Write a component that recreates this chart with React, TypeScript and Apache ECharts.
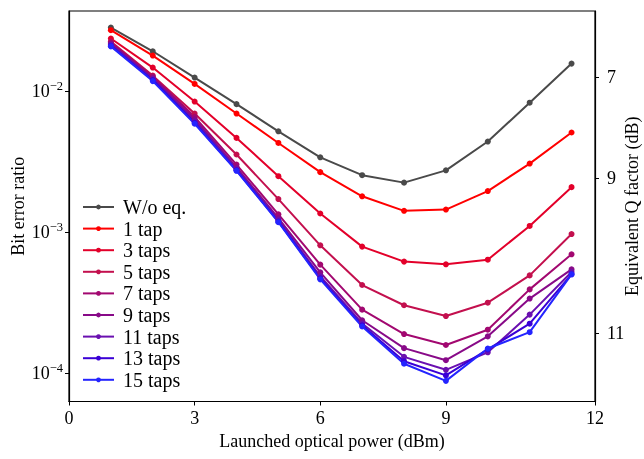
import React, { useEffect, useRef } from "react";
import * as echarts from "echarts";

const powers = [1, 2, 3, 4, 5, 6, 7, 8, 9, 10, 11, 12];
const seriesNames = ["W/o eq.", "1 tap", "3 taps", "5 taps", "7 taps", "9 taps", "11 taps", "13 taps", "15 taps"];
const seriesColors = ["#4a4a4a", "#ff0000", "#e3002a", "#c3104e", "#a20870", "#880a88", "#6a10b0", "#3a00d6", "#2424ff"];

const berWoEq = [0.0283, 0.0192, 0.0125, 0.0081, 0.0052, 0.0034, 0.00254, 0.00225, 0.00275, 0.0044, 0.0083, 0.0157];
const ber1 = [0.0271, 0.0179, 0.01127, 0.00695, 0.0043, 0.00267, 0.0018, 0.00142, 0.00145, 0.00196, 0.00307, 0.0051];
const ber3 = [0.02365, 0.01472, 0.00845, 0.00467, 0.0025, 0.00136, 0.000792, 0.00062, 0.000593, 0.00064, 0.00111, 0.00209];
const ber5 = [0.0225, 0.0129, 0.00695, 0.00356, 0.00172, 0.000809, 0.000423, 0.000304, 0.000255, 0.000317, 0.000495, 0.000972];
const ber7 = [0.0221, 0.0127, 0.00659, 0.00302, 0.00134, 0.00059, 0.000283, 0.00019, 0.000159, 0.000204, 0.000394, 0.000698];
const ber9 = [0.0217, 0.0124, 0.00633, 0.00289, 0.00126, 0.00052, 0.000238, 0.000151, 0.000124, 0.000183, 0.000339, 0.000546];
const ber11 = [0.0214, 0.0122, 0.00613, 0.0028, 0.00122, 0.000488, 0.000226, 0.000131, 0.000106, 0.000141, 0.000261, 0.000523];
const ber13 = [0.021, 0.012, 0.00598, 0.00275, 0.00119, 0.000472, 0.000219, 0.000122, 0.0000968, 0.000148, 0.000225, 0.000504];
const ber15 = [0.0208, 0.0118, 0.00588, 0.00273, 0.00118, 0.000464, 0.000215, 0.000117, 0.0000885, 0.00015, 0.000196, 0.000504];
const allBer = [berWoEq, ber1, ber3, ber5, ber7, ber9, ber11, ber13, ber15];

const xTickValues = [0, 3, 6, 9, 12.56];
const xTickLabels = ["0", "3", "6", "9", "12"];
const berTickValues = [1e-4, 1e-3, 1e-2];
const qTickLabels = [7, 9, 11];

function erfc(x: number): number {
  const t = 1 / (1 + 0.3275911 * x);
  return t * (0.254829592 + t * (-0.284496736 + t * (1.421413741 + t * (-1.453152027 + t * 1.061405429)))) * Math.exp(-x * x);
}
const qToBer = (qdB: number) => 0.5 * erfc(Math.pow(10, qdB / 20) / Math.SQRT2);
const qTickValues = qTickLabels.map(qToBer);

const FONT = "Liberation Serif";

export default function App() {
  const ref = useRef<HTMLDivElement>(null);
  useEffect(() => {
    if (!ref.current) return;
    const chart = echarts.init(ref.current, undefined, { renderer: "svg" });
    const yMin = 6.32e-5;
    const yMax = 0.03705;
    chart.setOption({
      animation: false,
      textStyle: { fontFamily: FONT },
      grid: {
        left: 69, top: 11, right: 49, bottom: 57.5,
        outerBoundsMode: "none",
        containLabel: false,
        show: true, borderColor: "#000", borderWidth: 1.2, backgroundColor: "transparent",
      },
      legend: {
        orient: "vertical",
        left: 82,
        top: 197,
        padding: 0,
        itemWidth: 31,
        itemHeight: 6,
        itemGap: 1.6,
        data: seriesNames,
        textStyle: { fontFamily: FONT, fontSize: 20, lineHeight: 20, color: "#000", padding: [0, 0, 0, 4] },
      },
      xAxis: {
        type: "value",
        min: 0,
        max: 12.56,
        name: "Launched optical power (dBm)",
        nameLocation: "middle",
        nameGap: 30,
        nameMoveOverlap: false,
        nameTextStyle: { fontFamily: FONT, fontSize: 18, color: "#000" },
        axisLine: { lineStyle: { color: "#000", width: 1.2 } },
        axisTick: { customValues: xTickValues, length: 4, lineStyle: { color: "#000" } },
        axisLabel: {
          customValues: xTickValues,
          margin: 7,
          fontFamily: FONT,
          fontSize: 18,
          color: "#000",
          formatter: (v: number) => {
            const i = xTickValues.findIndex((t) => Math.abs(t - v) < 1e-6);
            return i >= 0 ? xTickLabels[i] : "";
          },
        },
        splitLine: { show: false },
      },
      yAxis: [
        {
          type: "log",
          logBase: 10,
          min: yMin,
          max: yMax,
          name: "Bit error ratio",
          nameLocation: "middle",
          nameGap: 42,
          nameMoveOverlap: false,
          nameTextStyle: { fontFamily: FONT, fontSize: 18, color: "#000" },
          axisLine: { show: true, lineStyle: { color: "#000", width: 1.2 } },
          axisTick: { show: true, customValues: berTickValues, length: 4, lineStyle: { color: "#000" } },
          axisLabel: {
            customValues: berTickValues,
            margin: 6,
            color: "#000",
            formatter: (v: number) => {
              const e = Math.round(Math.log10(v));
              return `{b|10}{s|\u2212${-e}}`;
            },
            rich: {
              b: { fontFamily: FONT, fontSize: 18, color: "#000", lineHeight: 24 },
              s: { fontFamily: FONT, fontSize: 12.5, color: "#000", verticalAlign: "top", lineHeight: 12 },
            },
          },
          splitLine: { show: false },
        },
        {
          type: "log",
          logBase: 10,
          min: yMin,
          max: yMax,
          position: "right",
          name: "Equivalent Q factor (dB)",
          nameLocation: "middle",
          nameRotate: 90,
          nameGap: 28,
          nameMoveOverlap: false,
          nameTextStyle: { fontFamily: FONT, fontSize: 18, color: "#000" },
          axisLine: { show: true, lineStyle: { color: "#000", width: 1.2 } },
          axisTick: { show: true, customValues: qTickValues, length: 4, lineStyle: { color: "#000" } },
          axisLabel: {
            customValues: qTickValues,
            margin: 12,
            fontFamily: FONT,
            fontSize: 18,
            color: "#000",
            formatter: (v: number) => {
              let best = 0;
              qTickValues.forEach((t, i) => {
                if (Math.abs(Math.log10(t) - Math.log10(v)) < Math.abs(Math.log10(qTickValues[best]) - Math.log10(v))) best = i;
              });
              return String(qTickLabels[best]);
            },
          },
          splitLine: { show: false },
        },
      ],
      series: seriesNames.map((name, i) => ({
        name,
        type: "line",
        yAxisIndex: 0,
        data: powers.map((p, j) => [p, allBer[i][j]]),
        symbol: "circle",
        symbolSize: 6,
        showSymbol: true,
        lineStyle: { width: 2, color: seriesColors[i] },
        itemStyle: { color: seriesColors[i] },
        emphasis: { disabled: true },
      })),
    });
    return () => chart.dispose();
  }, []);
  return <div ref={ref} style={{ position: "fixed", left: 0, top: 0, width: 644, height: 459 }} />;
}
